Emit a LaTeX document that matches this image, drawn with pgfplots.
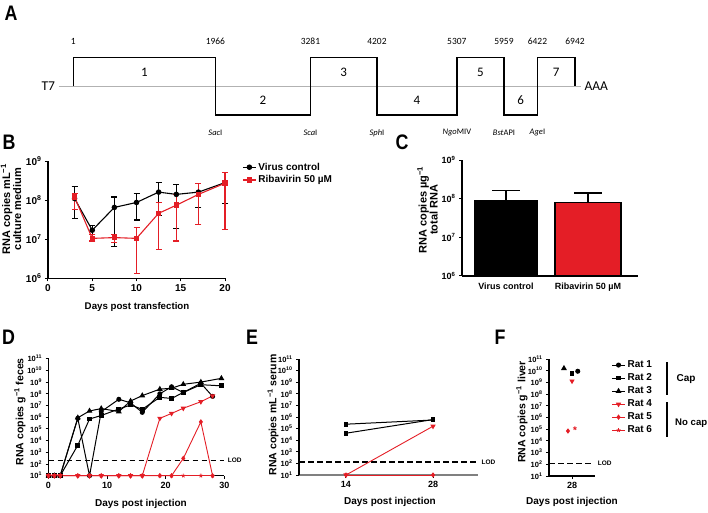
\documentclass[border=0pt]{standalone}
\usepackage{fontspec}
\setmainfont{Liberation Sans}
\newfontfamily\carlito{Carlito}
\usepackage{pgfplots}
\usepackage{pgfplotstable}
\pgfplotsset{compat=1.18}
\definecolor{rred}{RGB}{228,30,38}
\newcommand{\tp}[1]{10\textsuperscript{#1}}
\newcommand{\fs}[1]{\fontsize{#1}{#1}\selectfont}
\pgfplotsset{
  gp/.style={scale only axis, anchor=south west, axis lines*=left,
    axis line style={line width=1.2pt}, tick style={black, line width=1pt},
    tick align=outside, major tick length=3pt, clip=false,
    yminorticks=false, xminorticks=false,
    /pgf/number format/assume math mode=true,
    legend image code/.code={\draw[mark repeat=2,mark phase=2] plot coordinates {(0pt,0pt) (6.5pt,0pt) (13pt,0pt)};}},
  lod/.style={black, line width=1.7pt, dash pattern=on 5.5pt off 3.5pt, forget plot},
  r1/.style={black, line width=1pt, mark=*, mark size=2pt},
  r2/.style={black, line width=1pt, mark=square*, mark size=1.9pt},
  r3/.style={black, line width=1pt, mark=triangle*, mark size=2.4pt},
  r4/.style={rred, line width=0.9pt, mark=triangle*, mark size=2.2pt, mark options={rotate=180}},
  r5/.style={rred, line width=0.9pt, mark=diamond*, mark size=2pt},
  r6/.style={rred, line width=0.9pt, mark=star, mark size=2pt, mark options={line width=0.8pt}},
}
\pgfplotstableread{
x y hi lo
3 1.1e8 2.2e8 3.4e7
5 1.7e7 2.2e7 1.3e7
7.5 6.5e7 1.2e8 6.4e6
10 8.7e7 1.5e8 3.1e7
12.5 1.6e8 2.8e8 4e7
14.5 1.4e8 2.5e8 1.9e7
17 1.6e8 2.6e8 6.3e7
20 2.8e8 5.1e8 8.3e7
}\Bvc
\pgfplotstableread{
x y hi lo
3 1.2e8 1.5e8 5.6e7
5 1.05e7 1.3e7 9e6
7.5 1.1e7 1.35e7 8.1e6
10 1.05e7 2e7 1.35e6
12.5 4.6e7 8.7e7 5.5e6
14.5 7.4e7 1.4e8 9e6
17 1.4e8 2.6e8 2.4e7
20 2.7e8 5e8 1.8e7
}\Brb
\begin{document}
\begin{tikzpicture}
\useasboundingbox (0,0) rectangle (708pt,512pt);
% panel letters
\node[font=\bfseries\fs{21}, xscale=0.85] at (11pt,499pt) {A};
\node[font=\bfseries\fs{21}, xscale=0.85] at (9pt,370pt) {B};
\node[font=\bfseries\fs{21}, xscale=0.85] at (402pt,370pt) {C};
\node[font=\bfseries\fs{21}, xscale=0.85] at (8.5pt,175pt) {D};
\node[font=\bfseries\fs{21}, xscale=0.85] at (252pt,175pt) {E};
\node[font=\bfseries\fs{21}, xscale=0.85] at (500pt,175pt) {F};

% ---------------- A ----------------
\begin{axis}[scale only axis, anchor=south west, at={(58.5pt,397pt)}, width=522.5pt, height=57.4pt,
  xmin=-205, xmax=7025, ymin=-1, ymax=1, hide axis, clip=false]
\addplot[gray!60, line width=0.8pt] coordinates {(-205,0) (7025,0)};
\addplot[black, line width=1.4pt] coordinates {(1,0)(1,1)(1966,1)(1966,-1)(3281,-1)(3281,1)(4202,1)(4202,-1)(5307,-1)(5307,1)(5959,1)(5959,-1)(6422,-1)(6422,1)(6942,1)(6942,0)};
\node[font=\carlito\fs{9.5}, yshift=16pt] at (axis cs:1,1) {1};
\node[font=\carlito\fs{9.5}, yshift=16pt] at (axis cs:1966,1) {1966};
\node[font=\carlito\fs{9.5}, yshift=16pt] at (axis cs:3281,1) {3281};
\node[font=\carlito\fs{9.5}, yshift=16pt] at (axis cs:4202,1) {4202};
\node[font=\carlito\fs{9.5}, yshift=16pt] at (axis cs:5307,1) {5307};
\node[font=\carlito\fs{9.5}, yshift=16pt] at (axis cs:5959,1) {5959};
\node[font=\carlito\fs{9.5}, yshift=16pt] at (axis cs:6422,1) {6422};
\node[font=\carlito\fs{9.5}, yshift=16pt] at (axis cs:6942,1) {6942};
\node[font=\carlito\fs{13}] at (axis cs:983,0.5) {1};
\node[font=\carlito\fs{13}] at (axis cs:2623,-0.5) {2};
\node[font=\carlito\fs{13}] at (axis cs:3741,0.5) {3};
\node[font=\carlito\fs{13}] at (axis cs:4754,-0.5) {4};
\node[font=\carlito\fs{13}] at (axis cs:5633,0.5) {5};
\node[font=\carlito\fs{13}] at (axis cs:6190,-0.5) {6};
\node[font=\carlito\fs{13}] at (axis cs:6682,0.5) {7};
\node[font=\carlito\fs{8.5}, yshift=-18pt] at (axis cs:1966,-1) {\textit{Sac}I};
\node[font=\carlito\fs{8.5}, yshift=-18pt] at (axis cs:3281,-1) {\textit{Sca}I};
\node[font=\carlito\fs{8.5}, yshift=-18pt] at (axis cs:4202,-1) {\textit{Sph}I};
\node[font=\carlito\fs{8.5}, yshift=-18pt] at (axis cs:5307,-1) {\textit{Ngo}MIV};
\node[font=\carlito\fs{8.5}, yshift=-18pt] at (axis cs:5959,-1) {\textit{Bst}API};
\node[font=\carlito\fs{8.5}, yshift=-18pt] at (axis cs:6422,-1) {\textit{Age}I};
\node[font=\carlito\fs{13.5}, anchor=east] at (axis cs:-205,0) {T7};
\node[font=\carlito\fs{13.5}, anchor=west] at (axis cs:7025,0) {AAA};
\end{axis}

% ---------------- B ----------------
\begin{axis}[gp, at={(48pt,233.7pt)}, width=177pt, height=117.3pt,
  xmin=0, xmax=20, ymode=log, ymin=1e6, ymax=1e9,
  xtick={0,5,10,15,20}, ytick={1e6,1e7,1e8,1e9}, yticklabels={\tp{6},\tp{7},\tp{8},\tp{9}},
  ticklabel style={font=\bfseries\fs{10}},
  xlabel={Days post transfection}, ylabel={RNA copies mL\textsuperscript{−1}\\culture medium},
  xlabel style={at={(axis description cs:0.503,-0.245)}, anchor=center, font=\bfseries\fs{9.7}},
  ylabel style={at={(axis description cs:-0.209,0.59)}, anchor=center, align=center, font=\bfseries\fs{11}},
  legend style={draw=none, fill=none, at={(1.08,1.02)}, anchor=north west, font=\bfseries\fs{10}, row sep=0pt},
  legend cell align=left]
\addplot[black, line width=1.1pt, mark=*, mark size=2.2pt,
  error bars/.cd, y dir=both, y explicit, error bar style={line width=1.1pt, black},
  error mark options={rotate=90, mark size=3pt, line width=1.1pt, black}]
  table[x=x, y=y, y error plus expr=\thisrow{hi}-\thisrow{y}, y error minus expr=\thisrow{y}-\thisrow{lo}] {\Bvc};
\addlegendentry{Virus control}
\addplot[rred, line width=1.1pt, mark=square*, mark size=2.2pt,
  error bars/.cd, y dir=both, y explicit, error bar style={line width=1.1pt, rred},
  error mark options={rotate=90, mark size=3pt, line width=1.1pt, rred}]
  table[x=x, y=y, y error plus expr=\thisrow{hi}-\thisrow{y}, y error minus expr=\thisrow{y}-\thisrow{lo}] {\Brb};
\addlegendentry{Ribavirin 50 µM}
\end{axis}

% ---------------- C ----------------
\begin{axis}[gp, at={(462pt,236pt)}, width=176pt, height=116pt,
  xmin=-0.537, xmax=1.61, ymode=log, ymin=1e6, ymax=1e9, log origin y=infty,
  xtick={0,1}, xticklabels={Virus control, Ribavirin 50 µM}, xtick style={draw=none},
  ytick={1e6,1e7,1e8,1e9}, yticklabels={\tp{6},\tp{7},\tp{8},\tp{9}},
  ticklabel style={font=\bfseries\fs{9}},
  ylabel={RNA copies µg\textsuperscript{−1}\\total RNA},
  ylabel style={at={(axis description cs:-0.196,0.57)}, anchor=center, align=center, font=\bfseries\fs{11}}]
\addplot[ybar, bar width=62pt, bar shift=0pt, fill=black, draw=black, line width=1.2pt,
  error bars/.cd, y dir=plus, y explicit, error bar style={line width=1.2pt, black},
  error mark options={rotate=90, mark size=14pt, line width=1.2pt, black}]
  coordinates {(0,8.7e7) +- (0,7.3e7)};
\addplot[ybar, bar width=66pt, bar shift=0pt, fill=rred, draw=black, line width=1.2pt,
  error bars/.cd, y dir=plus, y explicit, error bar style={line width=1.2pt, black},
  error mark options={rotate=90, mark size=14pt, line width=1.2pt, black}]
  coordinates {(1,7.8e7) +- (0,6.2e7)};
\end{axis}

% ---------------- D ----------------
\begin{axis}[gp, at={(48.5pt,36.3pt)}, width=175.8pt, height=117pt,
  ymode=log, ymin=10, ymax=1e11,
  ytick={1e1,1e2,1e3,1e4,1e5,1e6,1e7,1e8,1e9,1e10,1e11},
  yticklabels={\tp{1},\tp{2},\tp{3},\tp{4},\tp{5},\tp{6},\tp{7},\tp{8},\tp{9},\tp{10},\tp{11}},
  yticklabel style={font=\bfseries\fs{7.5}}, xticklabel style={font=\bfseries\fs{9}},
  xmin=0, xmax=30, xtick={0,10,20,30},
  xlabel={Days post injection}, ylabel={RNA copies g\textsuperscript{−1} feces},
  xlabel style={at={(axis description cs:0.526,-0.242)}, anchor=center, font=\bfseries\fs{10}},
  ylabel style={at={(axis description cs:-0.162,0.547)}, anchor=center, font=\bfseries\fs{10.5}}]
\addplot[lod] coordinates {(0,200) (30,200)};
\node[anchor=west, font=\bfseries\fs{6.5}] at (axis cs:30,200) {LOD};
\addplot[r1] coordinates {(0,10)(1,10)(2,10)(5,8e5)(7,10)(9,3e6)(12,3.4e7)(14,1.7e7)(16,2.6e6)(19,1e8)(21,4e8)(23,1.3e8)(26,8e8)(28,6e7)};
\addplot[r2] coordinates {(0,10)(1,10)(2,10)(5,4e3)(7,7e5)(9,1.4e6)(12,5e6)(14,1.1e7)(16,4.8e6)(19,5e7)(21,4e7)(23,1.3e8)(26,6e8)(29.5,4.8e8)};
\addplot[r3] coordinates {(0,10)(1,10)(2,10)(5,9e5)(7,3.4e6)(9,5.5e6)(12,3e6)(14,2.4e7)(16,7e7)(19,2.5e8)(21,3e8)(23,6.5e8)(26,1e9)(29.5,2.1e9)};
\addplot[r6] coordinates {(0,10)(1,10)(2,10)(5,10)(7,10)(9,10)(12,10)(14,10)(16,10)(19,10)(21,10)(23,10)(26,10)(28,10)};
\addplot[r5] coordinates {(0,10)(1,10)(2,10)(5,10)(7,10)(9,10)(12,10)(14,10)(16,10)(19,10)(21,10)(23,3e2)(26,4e5)(28,10)};
\addplot[r4] coordinates {(0,10)(1,10)(2,10)(5,10)(7,10)(9,10)(12,10)(14,10)(16,10)(19,8e5)(21,2.1e6)(23,5.8e6)(26,2.1e7)(28,6.6e7)};
\end{axis}

% ---------------- E ----------------
\begin{axis}[gp, at={(299pt,37pt)}, width=179pt, height=116pt,
  ymode=log, ymin=10, ymax=1e11,
  ytick={1e1,1e2,1e3,1e4,1e5,1e6,1e7,1e8,1e9,1e10,1e11},
  yticklabels={\tp{1},\tp{2},\tp{3},\tp{4},\tp{5},\tp{6},\tp{7},\tp{8},\tp{9},\tp{10},\tp{11}},
  yticklabel style={font=\bfseries\fs{7.5}}, xticklabel style={font=\bfseries\fs{9}},
  xmin=6.44, xmax=35.24, xtick={14,28}, x axis line style={gray},
  xlabel={Days post injection}, ylabel={RNA copies mL\textsuperscript{−1} serum},
  xlabel style={at={(axis description cs:0.508,-0.233)}, anchor=center, font=\bfseries\fs{10}},
  ylabel style={at={(axis description cs:-0.145,0.517)}, anchor=center, font=\bfseries\fs{10.5}}]
\addplot[lod] coordinates {(6.44,130) (35.24,130)};
\node[anchor=west, font=\bfseries\fs{6.5}] at (axis cs:35.24,130) {LOD};
\addplot[r2] coordinates {(14,2.4e5)(28,5.5e5)};
\addplot[r2] coordinates {(14,4e4)(28,6e5)};
\addplot[r5] coordinates {(14,10)(28,10)};
\addplot[r4] coordinates {(14,10)(28,1.6e5)};
\end{axis}

% ---------------- F ----------------
\begin{axis}[gp, at={(549pt,36pt)}, width=46pt, height=117pt,
  ymode=log, ymin=10, ymax=1e11,
  ytick={1e1,1e2,1e3,1e4,1e5,1e6,1e7,1e8,1e9,1e10,1e11},
  yticklabels={\tp{1},\tp{2},\tp{3},\tp{4},\tp{5},\tp{6},\tp{7},\tp{8},\tp{9},\tp{10},\tp{11}},
  yticklabel style={font=\bfseries\fs{7.5}}, xticklabel style={font=\bfseries\fs{9}},
  xmin=24, xmax=32, xtick={28},
  xlabel={Days post injection}, ylabel={RNA copies g\textsuperscript{−1} liver},
  xlabel style={at={(axis description cs:0.5,-0.222)}, anchor=center, font=\bfseries\fs{10}},
  ylabel style={at={(axis description cs:-0.587,0.547)}, anchor=center, font=\bfseries\fs{10.5}},
  legend style={draw=none, fill=none, at={(1.29,1.02)}, anchor=north west, font=\bfseries\fs{10}, row sep=0.6pt},
  legend cell align=left]
\addplot[r1] coordinates {(29,9e9)}; \addlegendentry{Rat 1}
\addplot[r2] coordinates {(28,6e9)}; \addlegendentry{Rat 2}
\addplot[r3] coordinates {(26.6,1.6e10)}; \addlegendentry{Rat 3}
\addplot[r4] coordinates {(28,1.3e9)}; \addlegendentry{Rat 4}
\addplot[r5] coordinates {(27.3,7e4)}; \addlegendentry{Rat 5}
\addplot[r6] coordinates {(28.5,1.2e5)}; \addlegendentry{Rat 6}
\addplot[lod] coordinates {(24,120) (31.65,120)};
\node[anchor=west, font=\bfseries\fs{6.5}] at (axis cs:31.9,120) {LOD};
\end{axis}
% legend brackets F
\draw[line width=1.2pt] (667pt,150pt) -- (667pt,117pt);
\node[anchor=west, font=\bfseries\fs{10}] at (673pt,133pt) {Cap};
\draw[line width=1.2pt] (667pt,110pt) -- (667pt,75pt);
\node[anchor=west, font=\bfseries\fs{9.6}, inner sep=1pt] at (674pt,89pt) {No cap};
\end{tikzpicture}
\end{document}
